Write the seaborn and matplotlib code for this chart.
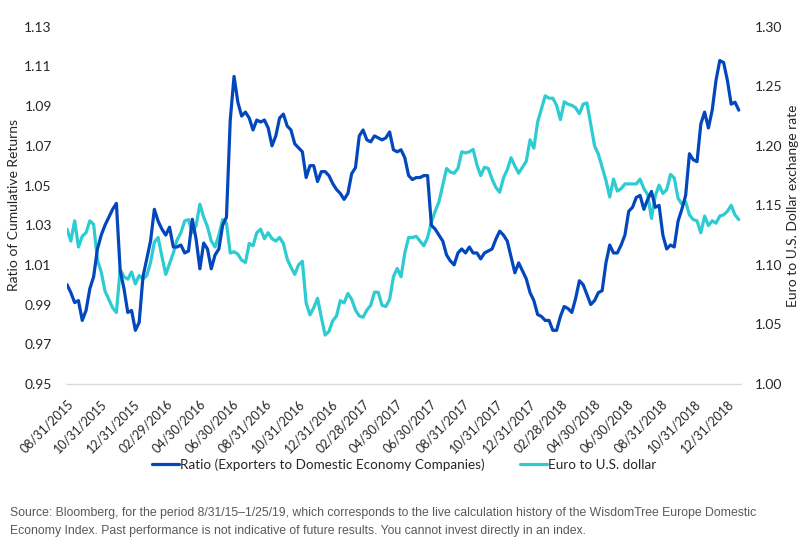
import pandas as pd
import matplotlib
matplotlib.use("Agg")
import matplotlib.pyplot as plt
import matplotlib.ticker as mticker
import seaborn as sns

# ===================== 数据（周频，从原图读取） =====================
START_DATE = "2015-08-31"
END_DATE = "2019-01-25"
dates = pd.date_range(START_DATE, periods=178, freq="7D")

ratio = [
    1.000, 0.996, 0.991, 0.992, 0.982, 0.987, 0.998, 1.004, 1.018, 1.025,
    1.030, 1.034, 1.038, 1.041, 1.007, 0.998, 0.986, 0.987, 0.977, 0.981,
    1.004, 1.013, 1.022, 1.038, 1.032, 1.028, 1.025, 1.029, 1.019, 1.019,
    1.020, 1.016, 1.017, 1.033, 1.023, 1.008, 1.021, 1.018, 1.008, 1.015,
    1.018, 1.030, 1.034, 1.083, 1.105, 1.092, 1.085, 1.087, 1.084, 1.078,
    1.083, 1.082, 1.083, 1.079, 1.070, 1.075, 1.084, 1.086, 1.080, 1.078,
    1.071, 1.069, 1.067, 1.054, 1.060, 1.060, 1.052, 1.057, 1.057, 1.055,
    1.051, 1.048, 1.046, 1.043, 1.046, 1.056, 1.059, 1.075, 1.078, 1.073,
    1.072, 1.075, 1.074, 1.073, 1.074, 1.077, 1.068, 1.067, 1.068, 1.064,
    1.055, 1.053, 1.054, 1.054, 1.055, 1.055, 1.030, 1.028, 1.025, 1.022,
    1.015, 1.012, 1.010, 1.016, 1.018, 1.016, 1.019, 1.016, 1.016, 1.013,
    1.016, 1.017, 1.018, 1.023, 1.027, 1.025, 1.022, 1.014, 1.006, 1.011,
    1.007, 1.003, 0.996, 0.992, 0.985, 0.984, 0.982, 0.982, 0.977, 0.977,
    0.984, 0.989, 0.988, 0.986, 0.993, 1.002, 1.000, 0.995, 0.990, 0.992,
    0.996, 0.997, 1.011, 1.020, 1.016, 1.016, 1.020, 1.025, 1.037, 1.039,
    1.044, 1.045, 1.038, 1.043, 1.047, 1.039, 1.040, 1.025, 1.018, 1.020,
    1.019, 1.032, 1.038, 1.045, 1.066, 1.063, 1.062, 1.081, 1.087, 1.079,
    1.088, 1.103, 1.113, 1.112, 1.103, 1.091, 1.092, 1.088,
]

eurusd = [
    1.130, 1.120, 1.137, 1.115, 1.124, 1.127, 1.137, 1.134, 1.104, 1.094,
    1.078, 1.071, 1.064, 1.060, 1.096, 1.090, 1.088, 1.094, 1.084, 1.091,
    1.088, 1.091, 1.102, 1.119, 1.123, 1.107, 1.092, 1.101, 1.110, 1.121,
    1.127, 1.137, 1.138, 1.127, 1.133, 1.151, 1.140, 1.132, 1.120, 1.115,
    1.125, 1.138, 1.135, 1.110, 1.111, 1.109, 1.104, 1.102, 1.118, 1.116,
    1.127, 1.130, 1.122, 1.127, 1.122, 1.120, 1.123, 1.118, 1.105, 1.098,
    1.092, 1.100, 1.103, 1.068, 1.058, 1.064, 1.072, 1.056, 1.041, 1.044,
    1.053, 1.057, 1.070, 1.068, 1.076, 1.071, 1.062, 1.057, 1.056, 1.062,
    1.066, 1.077, 1.077, 1.066, 1.065, 1.071, 1.090, 1.097, 1.090, 1.110,
    1.123, 1.123, 1.124, 1.120, 1.116, 1.123, 1.136, 1.145, 1.153, 1.167,
    1.181, 1.178, 1.177, 1.181, 1.195, 1.194, 1.195, 1.197, 1.184, 1.175,
    1.182, 1.181, 1.172, 1.165, 1.161, 1.173, 1.180, 1.190, 1.183, 1.177,
    1.182, 1.187, 1.205, 1.198, 1.220, 1.231, 1.242, 1.240, 1.240, 1.234,
    1.222, 1.237, 1.235, 1.234, 1.232, 1.227, 1.235, 1.236, 1.218, 1.200,
    1.193, 1.182, 1.171, 1.157, 1.172, 1.162, 1.164, 1.168, 1.168, 1.168,
    1.168, 1.172, 1.164, 1.159, 1.139, 1.158, 1.167, 1.160, 1.163, 1.176,
    1.173, 1.156, 1.151, 1.153, 1.142, 1.138, 1.137, 1.127, 1.141, 1.133,
    1.137, 1.135, 1.141, 1.142, 1.145, 1.150, 1.142, 1.138,
]

tick_labels = [
    "08/31/2015", "10/31/2015", "12/31/2015", "02/29/2016", "04/30/2016",
    "06/30/2016", "08/31/2016", "10/31/2016", "12/31/2016", "02/28/2017",
    "04/30/2017", "06/30/2017", "08/31/2017", "10/31/2017", "12/31/2017",
    "02/28/2018", "04/30/2018", "06/30/2018", "08/31/2018", "10/31/2018",
    "12/31/2018",
]
left_ticks = [0.95, 0.97, 0.99, 1.01, 1.03, 1.05, 1.07, 1.09, 1.11, 1.13]
right_ticks = [1.00, 1.05, 1.10, 1.15, 1.20, 1.25, 1.30]

label_ratio = "Ratio (Exporters to Domestic Economy Companies)"
label_eur = "Euro to U.S. dollar"
source_text = ("Source: Bloomberg, for the period 8/31/15\u20131/25/19, which corresponds to the live "
               "calculation history of the WisdomTree Europe Domestic\nEconomy Index. Past performance "
               "is not indicative of future results. You cannot invest directly in an index.")

df = pd.DataFrame({"date": dates, "ratio": ratio, "eurusd": eurusd})

# ===================== 样式 =====================
sns.set_style("white")
plt.rcParams["font.family"] = ["Lato", "DejaVu Sans"]
BLUE = "#0347BD"
CYAN = "#2DCBD2"
TEXT = "#262626"

fig, ax = plt.subplots(figsize=(8.08, 5.58), dpi=100)
fig.subplots_adjust(left=0.083, right=0.917, top=0.952, bottom=0.312)
ax2 = ax.twinx()

sns.lineplot(data=df, x="date", y="ratio", ax=ax, color=BLUE, linewidth=2.3, label=label_ratio, legend=False)
sns.lineplot(data=df, x="date", y="eurusd", ax=ax2, color=CYAN, linewidth=2.3, label=label_eur, legend=False)
ax.set_zorder(ax2.get_zorder() + 1)
ax.patch.set_visible(False)

ax.set_xlim(pd.Timestamp(START_DATE), pd.Timestamp(END_DATE))
ax.set_ylim(left_ticks[0], left_ticks[-1])
ax2.set_ylim(right_ticks[0], right_ticks[-1])
ax.set_yticks(left_ticks)
ax2.set_yticks(right_ticks)
ax.yaxis.set_major_formatter(mticker.FormatStrFormatter("%.2f"))
ax2.yaxis.set_major_formatter(mticker.FormatStrFormatter("%.2f"))

tick_dates = pd.to_datetime(tick_labels, format="%m/%d/%Y")
ax.set_xticks(tick_dates)
ax.set_xticklabels(tick_labels, rotation=45, ha="right", rotation_mode="anchor")

for a in (ax, ax2):
    for s in a.spines.values():
        s.set_visible(False)
    a.tick_params(length=0, labelsize=10, colors=TEXT)
ax.spines["bottom"].set_visible(True)
ax.spines["bottom"].set_color("#d9d9d9")
ax.spines["bottom"].set_linewidth(1.0)
ax.tick_params(axis="y", pad=11)
ax2.tick_params(axis="y", pad=10)
ax.tick_params(axis="x", pad=10, labelsize=9)

ax.set_xlabel("")
ax.set_ylabel("Ratio of Cumulative Returns", fontsize=10, color=TEXT, labelpad=3)
ax2.set_ylabel("Euro to U.S. Dollar exchange rate", fontsize=10, color=TEXT, labelpad=3)

h1, l1 = ax.get_legend_handles_labels()
h2, l2 = ax2.get_legend_handles_labels()
fig.legend(h1 + h2, l1 + l2, loc="center", bbox_to_anchor=(0.5, 0.168), ncol=2, frameon=False,
           fontsize=9.7, handlelength=2.0, handletextpad=0.1, columnspacing=2.6, labelcolor=TEXT)

fig.text(0.012, 0.092, source_text, fontsize=8.85, color="#595959", linespacing=1.75,
         family=["Liberation Sans", "DejaVu Sans"], ha="left", va="top")

fig.savefig("out.png", dpi=100)
